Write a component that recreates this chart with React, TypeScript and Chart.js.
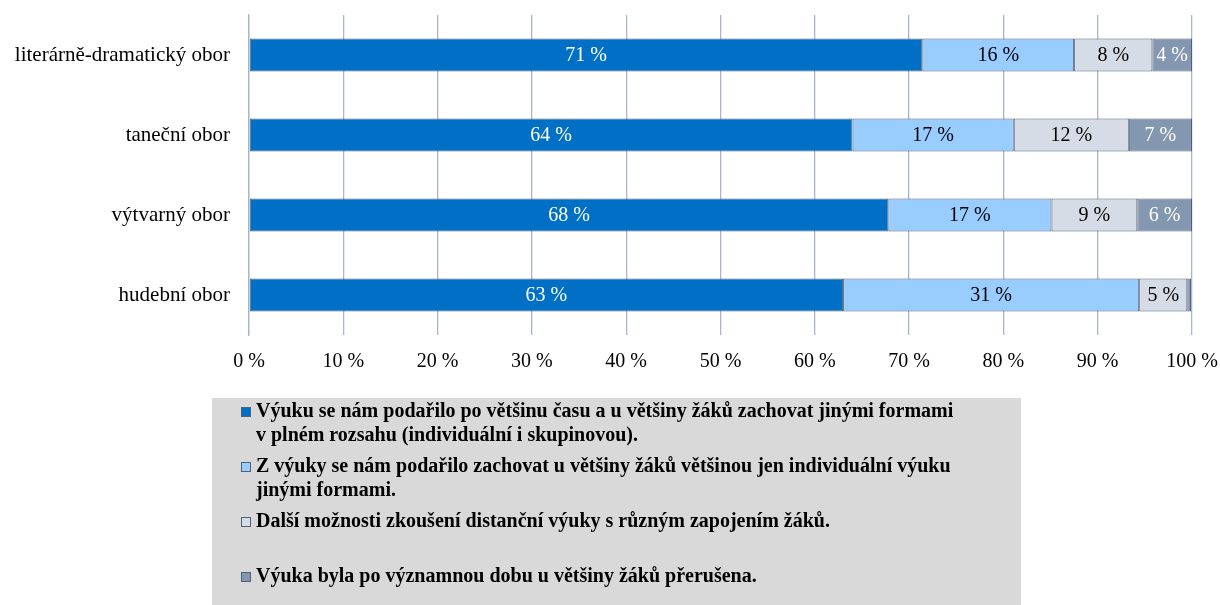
import React, { useEffect, useRef } from "react";
import { Chart, registerables } from "chart.js";

Chart.register(...registerables);

const categories = [
  "literárně-dramatický obor",
  "taneční obor",
  "výtvarný obor",
  "hudební obor",
];

const seriesNames = [
  "Výuku se nám podařilo po většinu času a u většiny žáků zachovat jinými formami v plném rozsahu (individuální i skupinovou).",
  "Z výuky se nám podařilo zachovat u většiny žáků většinou jen individuální výuku jinými formami.",
  "Další možnosti zkoušení distanční výuky s různým zapojením žáků.\n",
  "Výuka byla po významnou dobu u většiny žáků přerušena.",
];

const fullScope = [71.4, 64.0, 67.8, 63.0];
const individualOnly = [16.1, 17.1, 17.3, 31.4];
const otherOptions = [8.3, 12.2, 9.1, 5.1];
const interrupted = [4.2, 6.7, 5.8, 0.4];

const seriesColors = ["#0070C6", "#99CCFF", "#D6DCE5", "#8497B0"];
const labelColors = ["#FFFFFF", "#000000", "#000000", "#FFFFFF"];

const xTicks = [0, 10, 20, 30, 40, 50, 60, 70, 80, 90, 100];

const SERIF = "'Liberation Serif', 'Times New Roman', serif";

const dataLabelPlugin = {
  id: "dataLabels",
  afterDatasetsDraw(chart: any) {
    const ctx = chart.ctx;
    ctx.save();
    ctx.font = `20px ${SERIF}`;
    ctx.textAlign = "center";
    ctx.textBaseline = "middle";
    chart.data.datasets.forEach((ds: any, di: number) => {
      const meta = chart.getDatasetMeta(di);
      meta.data.forEach((el: any, i: number) => {
        const v = ds.data[i];
        if (v < 1) return;
        const cx = (el.x + el.base) / 2;
        ctx.fillStyle = labelColors[di];
        ctx.fillText(`${Math.round(v)} %`, cx, el.y + 1);
      });
    });
    ctx.restore();
  },
};

const legendPlugin = {
  id: "customLegend",
  afterDraw(chart: any) {
    const ctx = chart.ctx;
    ctx.save();
    ctx.fillStyle = "#D9D9D9";
    ctx.fillRect(212, 398, 809, 207);
    ctx.font = `bold 20px ${SERIF}`;
    ctx.textBaseline = "middle";
    ctx.textAlign = "left";
    const maxW = 702;
    let y = 412;
    seriesNames.forEach((name, idx) => {
      const lines: string[] = [];
      name.split("\n").forEach((para) => {
        const words = para.split(" ").filter((w) => w.length);
        let cur = "";
        words.forEach((w) => {
          const t = cur ? cur + " " + w : w;
          if (ctx.measureText(t).width > maxW && cur) {
            lines.push(cur);
            cur = w;
          } else cur = t;
        });
        lines.push(cur);
      });
      ctx.fillStyle = seriesColors[idx];
      ctx.fillRect(242, y - 4, 8, 8);
      ctx.strokeStyle = "#4F6179";
      ctx.lineWidth = 1;
      ctx.strokeRect(241.5, y - 4.5, 9, 9);
      ctx.fillStyle = "#000000";
      lines.forEach((ln, li) => {
        ctx.fillText(ln, 256, y + li * 24);
      });
      y += (lines.length - 1) * 24 + 31;
    });
    ctx.restore();
  },
};

export default function App() {
  const ref = useRef<HTMLCanvasElement>(null);
  useEffect(() => {
    if (!ref.current) return;
    const data = [fullScope, individualOnly, otherOptions, interrupted];
    const chart = new Chart(ref.current, {
      type: "bar",
      data: {
        labels: categories,
        datasets: data.map((d, i) => ({
          label: seriesNames[i],
          data: d,
          backgroundColor: seriesColors[i],
          borderColor: "#4F6179",
          borderWidth: 1,
          borderSkipped: false,
          barPercentage: 0.41,
          categoryPercentage: 1,
        })),
      },
      options: {
        indexAxis: "y",
        responsive: false,
        animation: false,
        layout: { padding: { left: 0, right: 28, top: 15, bottom: 0 } },
        plugins: {
          legend: { display: false },
          tooltip: { enabled: false },
        },
        scales: {
          x: {
            stacked: true,
            min: 0,
            max: 100,
            afterBuildTicks: (scale: any) => {
              scale.ticks = xTicks.map((v) => ({ value: v }));
            },
            afterFit: (scale: any) => {
              scale.height = 270;
              scale.paddingLeft = 0;
              scale.paddingRight = 0;
            },
            ticks: {
              callback: (v: any) => `${v} %`,
              font: { family: SERIF, size: 20 },
              color: "#000000",
              padding: 15,
              maxRotation: 0,
            },
            grid: { color: "#A8B6CC", drawTicks: false, lineWidth: 1.3 },
            border: { display: false },
          },
          y: {
            stacked: true,
            afterFit: (scale: any) => {
              scale.width = 249;
              scale.paddingTop = 0;
              scale.paddingBottom = 0;
            },
            ticks: {
              font: { family: SERIF, size: 21 },
              color: "#000000",
              padding: 19,
            },
            grid: { display: false, drawTicks: false },
            border: { display: true, color: "#A8B6CC", width: 1.3 },
          },
        },
      },
      plugins: [dataLabelPlugin, legendPlugin],
    } as any);
    return () => chart.destroy();
  }, []);
  return (
    <div style={{ position: "fixed", left: 0, top: 0, width: 1220, height: 605, background: "#FFFFFF" }}>
      <canvas ref={ref} width={1220} height={605} />
    </div>
  );
}
